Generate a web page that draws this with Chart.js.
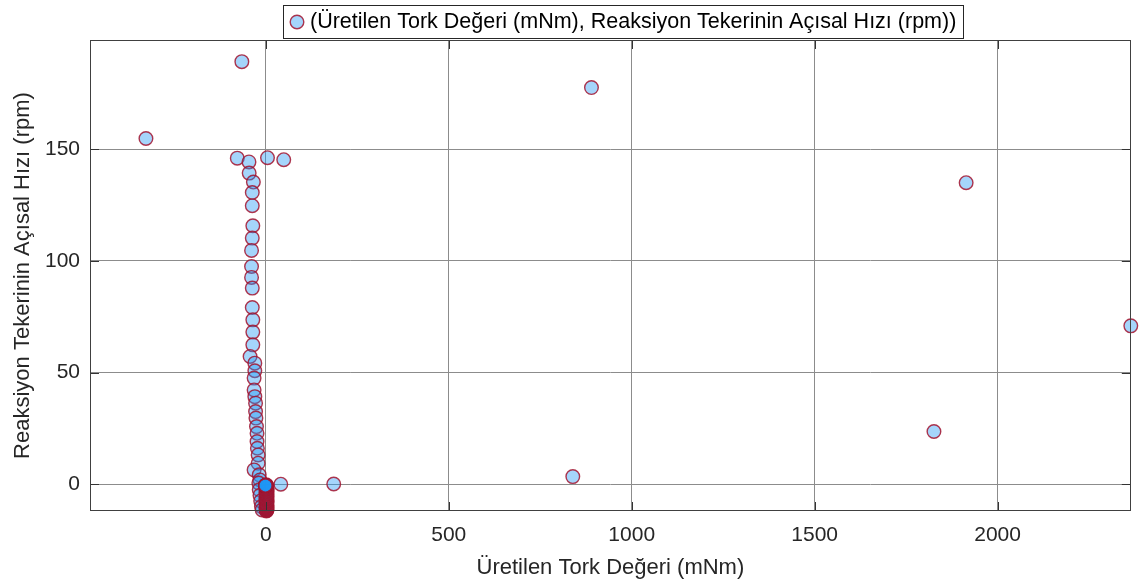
<!DOCTYPE html>
<html>
<head>
<meta charset="utf-8">
<script src="https://cdn.jsdelivr.net/npm/chart.js"></script>
<style>
html,body{margin:0;padding:0;background:#ffffff;}
#wrap{width:1139px;height:586px;position:relative;}
</style>
</head>
<body>
<div id="wrap"><canvas id="c"></canvas></div>
<script>
// ---- data ----
const torque = [
  -65.5, -327.6, -78, 4.6, 49, -46, -45.5, -34, -37, -37,
  -35.5, -37, -39, -39, -39, -37, -37, -35.5, -35.5, -35.5,
  -43, -30, -30, -32, -32, -30, -28, -28, -27, -25.5,
  -24, -24, -23, -21, -21, -32, -18, -16,
  -19, -18, -16, -14, -12, -10,
  1.5, 2.8, 0.6, 3.4, 2.1, 1.0, 3.0, 0.4, 2.5, 1.8,
  3.6, 0.9, 2.2, 1.4, 3.1, 0.3, 2.7, 1.6, 3.8, 0.7,
  2.0, 1.2, 3.3, 0.5, 2.4, 1.9, 3.5, 0.8, 2.6, 1.1,
  3.2, 0.2, 2.3, 1.7, 3.7, 0.6, 2.9, 1.3, 3.0, 0.4,
  2.1, 1.5, 2.8, 0.9,
  185.6, 41, 839, 890, 1826, 1914, 2364,
  -1, -1, -1, -1, -1, -1
];
const speed = [
  189.2, 154.8, 146.0, 146.2, 145.3, 144.3, 139.3, 135.3, 130.6, 124.7,
  115.7, 110.2, 104.7, 97.5, 92.6, 87.8, 79.1, 73.6, 68.1, 62.4,
  57.2, 54.2, 50.8, 47.5, 42.2, 39.2, 36.3, 32.5, 29.6, 25.8,
  22.8, 19.1, 16.1, 13.1, 9.4, 6.4, 4.2, 1.9,
  0.5, -2.5, -5.0, -7.5, -10.0, -11.5,
  -12.0, -11.8, -11.5, -11.3, -11.0, -10.7, -10.5, -10.2, -9.9, -9.7,
  -9.4, -9.1, -8.8, -8.6, -8.3, -8.0, -7.7, -7.5, -7.2, -6.9,
  -6.6, -6.4, -6.1, -5.8, -5.5, -5.3, -5.0, -4.7, -4.4, -4.2,
  -3.9, -3.6, -3.3, -3.1, -2.8, -2.5, -2.2, -2.0, -1.7, -1.4,
  -1.1, -0.9, -0.6, -0.3,
  0.1, 0.0, 3.4, 177.6, 23.6, 135.0, 70.9,
  -0.6, -0.6, -0.6, -0.6, -0.6, -0.6
];
const xTicks = [0, 500, 1000, 1500, 2000];
const yTicks = [0, 50, 100, 150];
const xRange = [-480.5, 2364];
const yRange = [-12.0, 198.9];
const seriesLabel = '(Üretilen Tork Değeri (mNm), Reaksiyon Tekerinin Açısal Hızı (rpm))';
const xTitle = 'Üretilen Tork Değeri (mNm)';
const yTitle = 'Reaksiyon Tekerinin Açısal Hızı (rpm)';

// ---- styles ----
const FONT = '"Liberation Sans", Arial, Helvetica, sans-serif';
const FILL = 'rgba(30,150,245,0.4)';
const EDGE = 'rgba(162,20,47,0.85)';
const TXT = '#262626';
const GRID = '#8c8c8c';

const points = torque.map((x, i) => ({ x: x, y: speed[i] }));

const frame = {
  id: 'frame',
  afterDatasetsDraw(chart) {
    const { ctx, chartArea: a, scales } = chart;
    ctx.save();
    ctx.strokeStyle = '#333333';
    ctx.lineWidth = 1;
    ctx.beginPath();
    const L = 9;
    xTicks.forEach(v => {
      const p = Math.round(scales.x.getPixelForValue(v)) + 0.5;
      ctx.moveTo(p, a.bottom); ctx.lineTo(p, a.bottom - L);
      ctx.moveTo(p, a.top); ctx.lineTo(p, a.top + L);
    });
    yTicks.forEach(v => {
      const p = Math.round(scales.y.getPixelForValue(v)) + 0.5;
      ctx.moveTo(a.left, p); ctx.lineTo(a.left + L, p);
      ctx.moveTo(a.right, p); ctx.lineTo(a.right - L, p);
    });
    ctx.stroke();
    ctx.strokeStyle = '#404040';
    ctx.strokeRect(Math.round(a.left) + 0.5, Math.round(a.top) + 0.5,
                   Math.round(a.right - a.left) - 1, Math.round(a.bottom - a.top) - 1);
    ctx.restore();
  }
};

const legendBox = {
  id: 'legendBox',
  afterDraw(chart) {
    const ctx = chart.ctx;
    const ds = chart.data.datasets[0];
    ctx.save();
    const x0 = 283, y0 = 5, w = 680, h = 33;
    ctx.fillStyle = '#ffffff';
    ctx.fillRect(x0, y0, w, h);
    ctx.strokeStyle = '#262626';
    ctx.lineWidth = 1;
    ctx.strokeRect(x0 + 0.5, y0 + 0.5, w, h);
    ctx.beginPath();
    ctx.arc(297, 22, 6.8, 0, Math.PI * 2);
    ctx.fillStyle = ds.backgroundColor;
    ctx.fill();
    ctx.lineWidth = ds.borderWidth;
    ctx.strokeStyle = ds.borderColor;
    ctx.stroke();
    ctx.font = '21.5px ' + FONT;
    ctx.fillStyle = '#000000';
    ctx.textBaseline = 'middle';
    ctx.textAlign = 'left';
    ctx.fillText(ds.label, 310, 22.5);
    ctx.restore();
  }
};

new Chart(document.getElementById('c'), {
  type: 'scatter',
  data: {
    datasets: [{
      label: seriesLabel,
      data: points,
      backgroundColor: FILL,
      borderColor: EDGE,
      borderWidth: 1.4,
      pointRadius: 6.8,
      pointHoverRadius: 6.8,
      clip: false
    }]
  },
  options: {
    responsive: true,
    maintainAspectRatio: false,
    animation: false,
    events: [],
    layout: { padding: { left: 0, right: 7, top: 40, bottom: 0 } },
    plugins: {
      legend: { display: false },
      tooltip: { enabled: false }
    },
    scales: {
      x: {
        type: 'linear',
        min: xRange[0], max: xRange[1],
        afterBuildTicks: s => { s.ticks = xTicks.map(v => ({ value: v })); },
        afterFit: s => { s.height = 75; },
        grid: { color: GRID, lineWidth: 1, drawTicks: false },
        border: { display: false },
        ticks: { padding: 12, color: TXT, font: { family: FONT, size: 21 }, maxRotation: 0, callback: v => String(v) },
        title: { display: true, text: xTitle, color: TXT, font: { family: FONT, size: 22 }, padding: { top: 0, bottom: 5 } }
      },
      y: {
        type: 'linear',
        min: yRange[0], max: yRange[1],
        afterBuildTicks: s => { s.ticks = yTicks.map(v => ({ value: v })); },
        afterFit: s => { s.width = 90; },
        grid: { color: GRID, lineWidth: 1, drawTicks: false },
        border: { display: false },
        ticks: { padding: 10, color: TXT, font: { family: FONT, size: 21 }, callback: v => String(v) },
        title: { display: true, text: yTitle, color: TXT, font: { family: FONT, size: 22 }, padding: { top: 10, bottom: 0 } }
      }
    }
  },
  plugins: [frame, legendBox]
});
</script>
</body>
</html>
